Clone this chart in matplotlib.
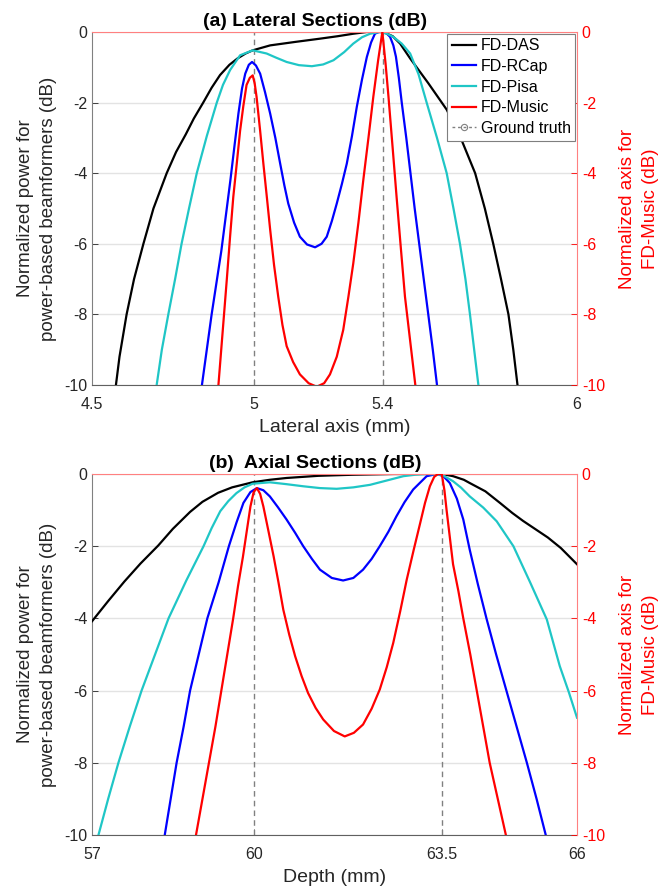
import matplotlib.pyplot as plt
from matplotlib.lines import Line2D

plt.rcParams['font.family'] = ['Liberation Sans', 'DejaVu Sans']
plt.rcParams['axes.unicode_minus'] = False

# (a) lateral sections: lateral position (mm) and level (dB)
lat_das_x = [4.574, 4.585, 4.607, 4.63, 4.659, 4.69, 4.731, 4.76, 4.79, 4.815, 4.844, 4.87,
             4.896, 4.925, 4.95, 4.975, 4.997, 5.051, 5.13, 5.205, 5.26, 5.308, 5.35, 5.40,
             5.43, 5.453, 5.484, 5.54, 5.597, 5.643, 5.685, 5.715, 5.741, 5.765, 5.788,
             5.803, 5.816]
lat_das_y = [-10, -9.2, -8.0, -7.0, -6.0, -5.0, -4.0, -3.4, -2.9, -2.45, -2.0, -1.58,
             -1.22, -0.93, -0.75, -0.61, -0.52, -0.38, -0.28, -0.19, -0.12, -0.05, 0.0, 0.0,
             -0.12, -0.33, -0.75, -1.45, -2.2, -3.06, -4.0, -5.0, -6.0, -7.0, -8.0,
             -9.0, -10]

lat_pisa_x = [4.700, 4.716, 4.736, 4.757, 4.777, 4.80, 4.824, 4.855, 4.886, 4.905, 4.927,
              4.958, 4.997, 5.040, 5.07, 5.102, 5.140, 5.180, 5.215, 5.247, 5.28, 5.308,
              5.335, 5.360, 5.39, 5.41, 5.432, 5.458, 5.484, 5.51, 5.535, 5.567, 5.597,
              5.618, 5.638, 5.655, 5.669, 5.695]
lat_pisa_y = [-10, -9.0, -8.0, -7.0, -6.0, -5.0, -4.0, -2.95, -2.0, -1.5, -1.08,
              -0.66, -0.52, -0.61, -0.73, -0.85, -0.94, -0.97, -0.92, -0.8, -0.57, -0.33,
              -0.15, -0.05, 0.0, -0.04, -0.14, -0.33, -0.61, -1.2, -2.0, -3.0, -4.0,
              -5.0, -6.0, -7.0, -8.0, -10]

lat_rcap_x = [4.840, 4.855, 4.870, 4.885, 4.900, 4.914, 4.928, 4.941, 4.953, 4.964, 4.974,
              4.985, 4.995, 5.007, 5.020, 5.035, 5.051, 5.067, 5.082, 5.095, 5.107, 5.125,
              5.143, 5.165, 5.190, 5.210, 5.226, 5.242, 5.257, 5.273, 5.288, 5.304, 5.319,
              5.335, 5.350, 5.363, 5.375, 5.387, 5.398, 5.410, 5.422, 5.432, 5.440, 5.449,
              5.458, 5.472, 5.485, 5.498, 5.512, 5.526, 5.540, 5.554, 5.567]
lat_rcap_y = [-10, -9.0, -8.0, -7.1, -6.2, -5.2, -4.2, -3.2, -2.3, -1.6, -1.18,
              -0.93, -0.85, -0.95, -1.18, -1.7, -2.31, -3.0, -3.73, -4.35, -4.86, -5.4,
              -5.8, -6.02, -6.1, -6.0, -5.8, -5.35, -4.86, -4.3, -3.73, -2.95, -2.12,
              -1.35, -0.71, -0.3, -0.05, 0.0, 0.0, -0.03, -0.14, -0.38, -0.7, -1.3,
              -2.0, -3.0, -4.0, -5.0, -6.0, -7.0, -8.0, -9.0, -10]

lat_music_x = [4.891, 4.904, 4.917, 4.927, 4.937, 4.948, 4.958, 4.968, 4.978, 4.988, 4.997,
               5.003, 5.009, 5.020, 5.030, 5.041, 5.051, 5.063, 5.076, 5.089, 5.102, 5.122,
               5.143, 5.170, 5.195, 5.218, 5.236, 5.257, 5.277, 5.293, 5.308, 5.324, 5.339,
               5.355, 5.370, 5.385, 5.398, 5.408, 5.417, 5.430, 5.442, 5.455, 5.468, 5.484,
               5.500]
lat_music_y = [-10, -8.5, -7.0, -5.8, -4.67, -3.7, -2.8, -2.1, -1.5, -1.3, -1.23,
               -1.45, -1.84, -2.8, -3.73, -4.7, -5.6, -6.6, -7.5, -8.3, -8.9, -9.35,
               -9.7, -9.95, -10.05, -9.95, -9.7, -9.2, -8.44, -7.5, -6.56, -5.4, -4.2,
               -3.0, -1.84, -0.8, 0.0, -0.9, -1.84, -3.3, -4.67, -6.1, -7.5, -8.75,
               -10]

# (b) axial sections: depth (mm) and level (dB)
ax_das_x = [57.0, 57.3, 57.6, 57.9, 58.23, 58.5, 58.82, 59.05, 59.34, 59.6, 59.98, 60.3,
            60.61, 61.2, 61.85, 62.6, 63.1, 63.5, 63.70, 63.9, 64.01, 64.3, 64.57, 64.8,
            65.0, 65.2, 65.46, 65.7, 66.0]
ax_das_y = [-4.08, -3.52, -2.98, -2.48, -1.98, -1.52, -1.05, -0.77, -0.52, -0.37, -0.23, -0.16,
            -0.11, -0.05, -0.02, 0.0, 0.0, 0.0, -0.06, -0.16, -0.25, -0.48, -0.8, -1.08,
            -1.3, -1.5, -1.76, -2.05, -2.5]

ax_pisa_x = [57.12, 57.3, 57.49, 57.7, 57.92, 58.17, 58.42, 58.75, 59.07, 59.22, 59.38,
             59.53, 59.68, 59.83, 59.98, 60.30, 60.6, 60.92, 61.23, 61.54, 61.85, 62.16,
             62.47, 62.78, 63.0, 63.21, 63.49, 63.70, 63.85, 64.01, 64.26, 64.51, 64.82,
             65.13, 65.44, 65.68, 65.85, 66.0]
ax_pisa_y = [-10, -9.0, -8.0, -7.0, -6.0, -5.0, -4.0, -2.95, -2.0, -1.5, -1.03,
             -0.75, -0.53, -0.37, -0.27, -0.23, -0.28, -0.34, -0.39, -0.41, -0.37, -0.3,
             -0.18, -0.06, -0.02, 0.0, -0.02, -0.2, -0.38, -0.62, -0.93, -1.31, -2.0,
             -3.0, -4.03, -5.32, -6.05, -6.75]

ax_rcap_x = [58.35, 58.46, 58.57, 58.70, 58.82, 58.98, 59.14, 59.35, 59.54, 59.68, 59.81,
             59.94, 60.06, 60.18, 60.30, 60.45, 60.61, 60.77, 60.92, 61.08, 61.23, 61.45,
             61.66, 61.85, 62.03, 62.19, 62.34, 62.50, 62.65, 62.80, 62.96, 63.21, 63.40,
             63.52, 63.64, 63.77, 63.89, 64.01, 64.16, 64.32, 64.50, 64.69, 64.88, 65.07,
             65.25, 65.42]
ax_rcap_y = [-10, -9.0, -8.0, -7.0, -6.0, -5.0, -4.0, -3.0, -2.0, -1.35, -0.8,
             -0.5, -0.39, -0.45, -0.62, -0.92, -1.26, -1.63, -2.0, -2.35, -2.65, -2.88,
             -2.95, -2.88, -2.65, -2.35, -2.0, -1.6, -1.17, -0.78, -0.43, -0.06, 0.0,
             -0.06, -0.25, -0.68, -1.26, -2.1, -3.05, -4.0, -5.0, -6.0, -7.0, -8.0,
             -9.0, -10]

ax_music_x = [58.93, 59.05, 59.17, 59.29, 59.40, 59.51, 59.62, 59.71, 59.80, 59.88, 59.94,
              60.00, 60.06, 60.12, 60.18, 60.27, 60.37, 60.46, 60.55, 60.66, 60.77, 60.89,
              61.01, 61.15, 61.29, 61.49, 61.69, 61.86, 62.03, 62.19, 62.34, 62.47, 62.59,
              62.72, 62.84, 62.97, 63.09, 63.18, 63.27, 63.35, 63.42, 63.49, 63.54, 63.58,
              63.64, 63.70, 63.80, 63.89, 64.02, 64.14, 64.26, 64.38, 64.53, 64.68]
ax_music_y = [-10, -9.0, -8.0, -7.0, -6.0, -5.0, -4.0, -3.1, -2.3, -1.5, -0.9,
              -0.5, -0.39, -0.55, -0.9, -1.55, -2.28, -3.0, -3.76, -4.45, -5.05, -5.6,
              -6.07, -6.48, -6.8, -7.12, -7.27, -7.17, -6.94, -6.5, -5.97, -5.35, -4.68,
              -3.8, -2.93, -2.1, -1.36, -0.8, -0.34, -0.08, 0.0, 0.0, -0.45, -1.0,
              -1.75, -2.5, -3.25, -4.0, -5.0, -6.0, -7.0, -8.0, -9.0, -10]

gt_lat = [5.0, 5.4]
gt_ax = [60.0, 63.5]

names = ['FD-DAS', 'FD-RCap', 'FD-Pisa', 'FD-Music', 'Ground truth']
colors = ['#000000', '#0000ff', '#1fc6c6', '#ff0000', '#808080']
yticks = [0, -2, -4, -6, -8, -10]


def draw_panel(ax, series, music, gt, xlim, xticks, xticklabels, title, xlabel, legend):
    for (xs, ys), c, n in zip(series, colors[:3], names[:3]):
        ax.plot(xs, ys, color=c, lw=1.6, label=n, zorder=3)
    for g in gt:
        ax.axvline(g, color=colors[4], ls=(0, (4, 3)), lw=1.0, zorder=2)
    ax.set_xlim(*xlim)
    ax.set_ylim(-10, 0)
    ax.set_xticks(xticks)
    ax.set_xticklabels(xticklabels)
    ax.set_yticks(yticks)
    ax.grid(axis='y', color='#e3e3e3', lw=1.0, zorder=0)
    ax.tick_params(direction='in', length=4, width=0.6, labelsize=11.5, colors='#262626')
    ax.tick_params(axis='x', pad=9)
    ax.spines['left'].set_color('#808080')
    ax.spines['bottom'].set_color('#606060')
    ax.spines['top'].set_visible(False)
    ax.spines['right'].set_visible(False)
    ax.set_xlabel(xlabel, fontsize=14, color='#262626', labelpad=5)
    ax.set_ylabel('Normalized power for\npower-based beamformers (dB)', fontsize=13.5,
                  color='#262626', labelpad=5, linespacing=1.45)
    ax.set_title(title, fontsize=14, fontweight='bold', pad=4, x=0.46)

    ax2 = ax.twinx()
    ax2.plot(music[0], music[1], color=colors[3], lw=1.6, zorder=3)
    ax2.set_ylim(-10, 0)
    ax2.set_yticks(yticks)
    ax2.tick_params(direction='in', length=4, width=0.6, labelsize=11.5, colors='#ff0000')
    for side in ['left', 'bottom']:
        ax2.spines[side].set_visible(False)
    for side in ['top', 'right']:
        ax2.spines[side].set_color('#ff8080')
    ax2.set_ylabel('Normalized axis for\nFD-Music (dB)', fontsize=13.5, color='#ff0000',
                   labelpad=10, linespacing=1.45)

    if legend:
        handles = [Line2D([], [], color=c, lw=1.6) for c in colors[:4]]
        handles.append(Line2D([], [], color=colors[4], lw=1.0, ls=(0, (2, 2)), marker='o',
                              ms=4.5, mfc='none', mew=0.8))
        leg = ax2.legend(handles, names, loc='upper right', fontsize=11.5, frameon=True,
                         fancybox=False, edgecolor='#7f7f7f', framealpha=1.0,
                         borderaxespad=0.1, handlelength=1.5, handletextpad=0.3,
                         labelspacing=0.35, borderpad=0.3)
        leg.get_frame().set_linewidth(0.8)


fig = plt.figure(figsize=(6.61, 8.93), dpi=100)
ax_a = fig.add_axes([0.1392, 0.5689, 0.7337, 0.3953])
ax_b = fig.add_axes([0.1392, 0.0650, 0.7337, 0.4042])

draw_panel(ax_a,
           [(lat_das_x, lat_das_y), (lat_rcap_x, lat_rcap_y), (lat_pisa_x, lat_pisa_y)],
           (lat_music_x, lat_music_y), gt_lat, (4.5, 6.0), [4.5, 5.0, 5.4, 6.0],
           ['4.5', '5', '5.4', '6'], '(a) Lateral Sections (dB)', 'Lateral axis (mm)', True)
draw_panel(ax_b,
           [(ax_das_x, ax_das_y), (ax_rcap_x, ax_rcap_y), (ax_pisa_x, ax_pisa_y)],
           (ax_music_x, ax_music_y), gt_ax, (57, 66), [57, 60, 63.5, 66],
           ['57', '60', '63.5', '66'], '(b)  Axial Sections (dB)', 'Depth (mm)', False)

fig.savefig('out.png', dpi=100)
